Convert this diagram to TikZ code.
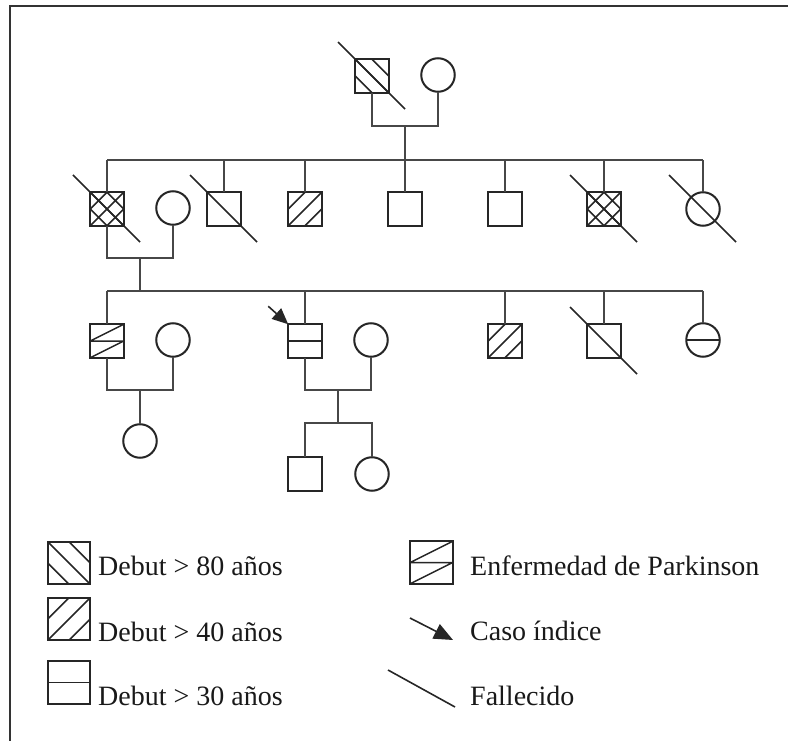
\documentclass[tikz,border=0pt]{standalone}
\usepackage{fontspec}
\setmainfont{Liberation Serif}
\usetikzlibrary{arrows.meta,calc}
\newcommand{\fallecido}[1]{\draw[dec] ($(#1)+(-34,-34)$) -- ($(#1)+(33,33)$);}
\begin{document}
\begin{tikzpicture}[x=1pt,y=-1pt,
  shp/.style={draw=black!85, line width=2pt, inner sep=0pt, outer sep=0pt},
  sq/.style={shp, rectangle, minimum size=33.5pt},
  ci/.style={shp, circle, minimum size=33.5pt},
  lsq/.style={shp, rectangle, minimum size=42.5pt},
  hatch/.style={draw=black!85, line width=1.5pt},
  p80/.style={path picture={\draw[hatch]
     (path picture bounding box.north west) -- (path picture bounding box.south east)
     (path picture bounding box.north) -- (path picture bounding box.east)
     (path picture bounding box.west) -- (path picture bounding box.south);}},
  p40/.style={path picture={\draw[hatch]
     (path picture bounding box.south west) -- (path picture bounding box.north east)
     (path picture bounding box.west) -- (path picture bounding box.north)
     (path picture bounding box.south) -- (path picture bounding box.east);}},
  pX/.style={path picture={\draw[hatch]
     (path picture bounding box.north west) -- (path picture bounding box.south east)
     (path picture bounding box.north) -- (path picture bounding box.east)
     (path picture bounding box.west) -- (path picture bounding box.south)
     (path picture bounding box.south west) -- (path picture bounding box.north east)
     (path picture bounding box.west) -- (path picture bounding box.north)
     (path picture bounding box.south) -- (path picture bounding box.east);}},
  pPD/.style={path picture={\draw[hatch]
     (path picture bounding box.west) -- (path picture bounding box.east)
     (path picture bounding box.west) -- (path picture bounding box.north east)
     (path picture bounding box.south west) -- (path picture bounding box.east);}},
  p30/.style={path picture={\draw[hatch]
     (path picture bounding box.west) -- (path picture bounding box.east);}},
  rel/.style={draw=black!72, line width=1.8pt},
  dec/.style={draw=black!85, line width=1.6pt},
  lbl/.style={anchor=base west, inner sep=0pt, text=black!90,
     font=\fontsize{28}{32}\selectfont},
]
\useasboundingbox (0,0) rectangle (788,741);
% frame
\draw[line width=2pt, black!80] (10,741) -- (10,6) -- (788,6);

% Generation I
\node[sq,p80] (I1) at (372,76) {};
\node[ci] (I2) at (438,75) {};
\fallecido{I1}
\coordinate (mI) at (405,126);
\draw[rel] (I1.south) |- (mI) -| (I2.south);
\coordinate (sII) at (405,160);
\draw[rel] (mI) -- (sII);

% Generation II
\node[sq,pX] (II1) at (107,209) {};
\node[ci] (II1w) at (173,208) {};
\node[sq] (II2) at (224,209) {};
\node[sq,p40] (II3) at (305,209) {};
\node[sq] (II4) at (405,209) {};
\node[sq] (II5) at (505,209) {};
\node[sq,pX] (II6) at (604,209) {};
\node[ci] (II7) at (703,209) {};
\draw[rel] (II1.north |- sII) -- (II7.north |- sII);
\foreach \n in {II1,II2,II3,II4,II5,II6,II7}
  \draw[rel] (\n.north) -- (\n.north |- sII);
\fallecido{II1}
\fallecido{II2}
\fallecido{II6}
\fallecido{II7}
\coordinate (mII) at (140,258);
\draw[rel] (II1.south) |- (mII) -| (II1w.south);
\coordinate (sIII) at (140,291);
\draw[rel] (mII) -- (sIII);

% Generation III
\node[sq,pPD] (III1) at (107,341) {};
\node[ci] (III1w) at (173,340) {};
\node[sq,p30] (III2) at (305,341) {};
\node[ci] (III2w) at (371,340) {};
\node[sq,p40] (III3) at (505,341) {};
\node[sq] (III4) at (604,341) {};
\node[ci,p30] (III5) at (703,340) {};
\draw[rel] (III1.north |- sIII) -- (III5.north |- sIII);
\foreach \n in {III1,III2,III3,III4,III5}
  \draw[rel] (\n.north) -- (\n.north |- sIII);
\fallecido{III4}
\draw[dec, -{Triangle[length=16pt,width=14pt]}] ($(III2.north west)+(-20,-18)$) -- (III2.north west);

\coordinate (mIII1) at (140,390);
\draw[rel] (III1.south) |- (mIII1) -| (III1w.south);
\coordinate (mIII2) at (338,390);
\draw[rel] (III2.south) |- (mIII2) -| (III2w.south);

% Generation IV
\node[ci] (IV1) at (140,441) {};
\draw[rel] (mIII1) -- (IV1.north);
\coordinate (sIV) at (338,423);
\node[sq] (IV2) at (305,474) {};
\node[ci] (IV3) at (372,474) {};
\draw[rel] (mIII2) -- (sIV);
\draw[rel] (IV2.north) |- (sIV) -| (IV3.north);

% Legend
\node[lsq,p80] (L1) at (69,563) {};
\node[lbl] (t1) at (98,575) {Debut > 80 años};
\node[lsq,p40] (L2) at (69,619) {};
\node[lbl] (t2) at (98,641) {Debut > 40 años};
\node[lsq,p30] (L3) at (69,682.5) {};
\node[lbl] (t3) at (98,705) {Debut > 30 años};
\node[lsq,pPD] (L4) at (431.5,562.5) {};
\node[lbl] (t4) at (470,575) {Enfermedad de Parkinson};
\coordinate (la1) at (410,618);
\coordinate (la2) at (453,640);
\draw[dec, -{Triangle[length=19pt,width=16pt]}] (la1) -- (la2);
\node[lbl] (t5) at (470,640) {Caso índice};
\coordinate (ld1) at (388,670);
\coordinate (ld2) at (455,707);
\draw[dec] (ld1) -- (ld2);
\node[lbl] (t6) at (470,705) {Fallecido};
\end{tikzpicture}
\end{document}
